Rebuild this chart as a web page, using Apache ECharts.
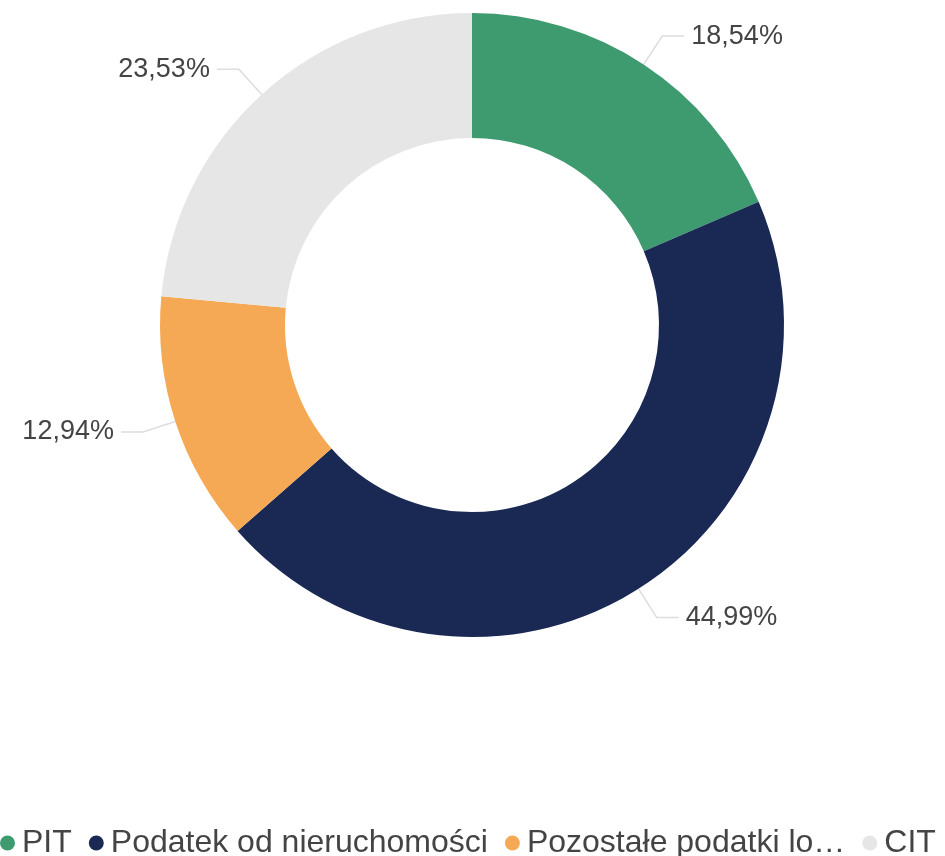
<!DOCTYPE html>
<html>
<head>
<meta charset="utf-8">
<script src="https://cdn.jsdelivr.net/npm/echarts@6/dist/echarts.min.js"></script>
<style>
  html, body { margin: 0; padding: 0; background: #fff; }
  #chart { width: 945px; height: 856px; }
</style>
</head>
<body>
<div id="chart"></div>
<script>
const categories = ['PIT', 'Podatek od nieruchomości', 'Pozostałe podatki lo…', 'CIT']
const values = [18.54, 44.99, 12.94, 23.53]
const colors = ['#3E9A6F', '#1A2854', '#F5A955', '#E6E6E6']

const fmtPct = (v) => v.toFixed(2).replace('.', ',') + '%'

const chart = echarts.init(document.getElementById('chart'))
chart.setOption({
  backgroundColor: '#fff',
  animation: false,
  legend: {
    data: categories,
    left: 0,
    top: 827,
    padding: 0,
    icon: 'circle',
    itemWidth: 15,
    itemHeight: 15,
    itemGap: 17,
    textStyle: { color: '#444', fontSize: 32, fontFamily: 'Liberation Sans', padding: [0, 0, 0, 2] },
  },
  series: [
    {
      type: 'pie',
      center: [472, 325],
      radius: [187, 312],
      startAngle: 90,
      clockwise: true,
      data: categories.map((name, i) => ({ name, value: values[i], itemStyle: { color: colors[i] } })),
      label: {
        formatter: (p) => fmtPct(p.value),
        color: '#444',
        fontSize: 27,
        fontFamily: 'Liberation Sans',
        distanceToLabelLine: 7,
      },
      labelLine: {
        length: 34,
        length2: 22,
        lineStyle: { color: '#ddd', width: 1.5 },
      },
    },
  ],
})
</script>
</body>
</html>
